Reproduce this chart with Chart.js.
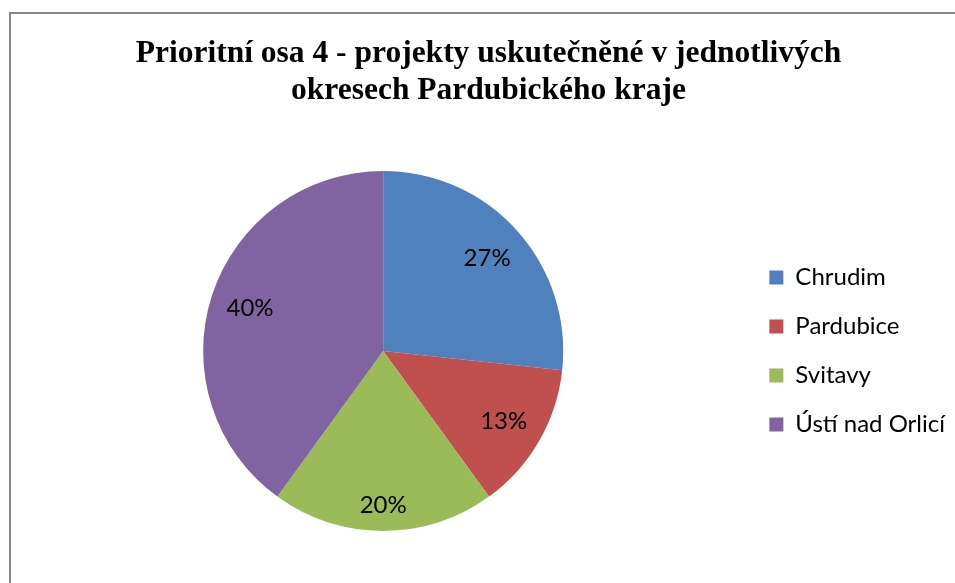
<!DOCTYPE html>
<html>
<head>
<meta charset="utf-8">
<script src="https://cdn.jsdelivr.net/npm/chart.js@4"></script>
<style>
    html, body { margin: 0; padding: 0; background: #fff; overflow: hidden; }
    #chart { display: block; }
</style>
</head>
<body>
<canvas id="chart" width="955" height="583"></canvas>
<script>
const titleLines = ['Prioritní osa 4 - projekty uskutečněné v jednotlivých', 'okresech Pardubického kraje'];
const districts = ['Chrudim', 'Pardubice', 'Svitavy', 'Ústí nad Orlicí'];
const shares = [26.7, 13.3, 20, 40];
const sliceColors = ['#4F81BD', '#C0504D', '#9BBB59', '#8064A2'];

// rámeček grafu (pravý a spodní okraj jsou mimo výřez)
const framePlugin = {
    id: 'frame',
    beforeDraw(chart) {
        const ctx = chart.ctx;
        ctx.save();
        ctx.fillStyle = '#fff';
        ctx.fillRect(0, 0, chart.width, chart.height);
        ctx.strokeStyle = '#878787';
        ctx.lineWidth = 2;
        ctx.strokeRect(10, 13, chart.width + 20, chart.height + 20);
        ctx.restore();
    }
};

// procenta uvnitř výsečí - okraj popisku drží stejnou vzdálenost od středu
const pctLabels = {
    id: 'pctLabels',
    afterDatasetsDraw(chart) {
        const ctx = chart.ctx;
        const meta = chart.getDatasetMeta(0);
        const values = chart.data.datasets[0].data;
        const total = values.reduce((a, b) => a + b, 0);
        ctx.save();
        ctx.font = '24px Lato';
        ctx.fillStyle = '#000';
        ctx.textAlign = 'center';
        ctx.textBaseline = 'middle';
        meta.data.forEach((arc, i) => {
            const p = arc.getProps(['x', 'y', 'startAngle', 'endAngle', 'outerRadius'], true);
            const mid = (p.startAngle + p.endAngle) / 2;
            const txt = Math.round(values[i] / total * 100) + '%';
            const w = ctx.measureText(txt).width + 2;
            const h = 30;
            const cx = Math.cos(mid), cy = Math.sin(mid);
            const d = p.outerRadius * 0.933 - w / 2 * Math.abs(cx) - h / 2 * Math.abs(cy);
            ctx.fillText(txt, p.x + cx * d, p.y + cy * d + 1);
        });
        ctx.restore();
    }
};

new Chart(document.getElementById('chart'), {
    type: 'pie',
    data: {
        labels: districts,
        datasets: [{
            data: shares,
            backgroundColor: sliceColors,
            borderWidth: 0
        }]
    },
    options: {
        responsive: false,
        animation: false,
        layout: {
            padding: { top: 0, left: 22, right: 0, bottom: 52 }
        },
        plugins: {
            title: {
                display: true,
                text: titleLines,
                color: '#000',
                font: { family: 'Liberation Serif', size: 31.5, weight: 'bold', lineHeight: 1.19 },
                padding: { top: 35, bottom: 61 }
            },
            legend: {
                position: 'right',
                fullSize: false,
                labels: {
                    boxWidth: 14,
                    boxHeight: 14,
                    padding: 25,
                    color: '#000',
                    font: { family: 'Lato', size: 24 }
                }
            },
            tooltip: { enabled: false }
        }
    },
    plugins: [framePlugin, pctLabels]
});
</script>
</body>
</html>
